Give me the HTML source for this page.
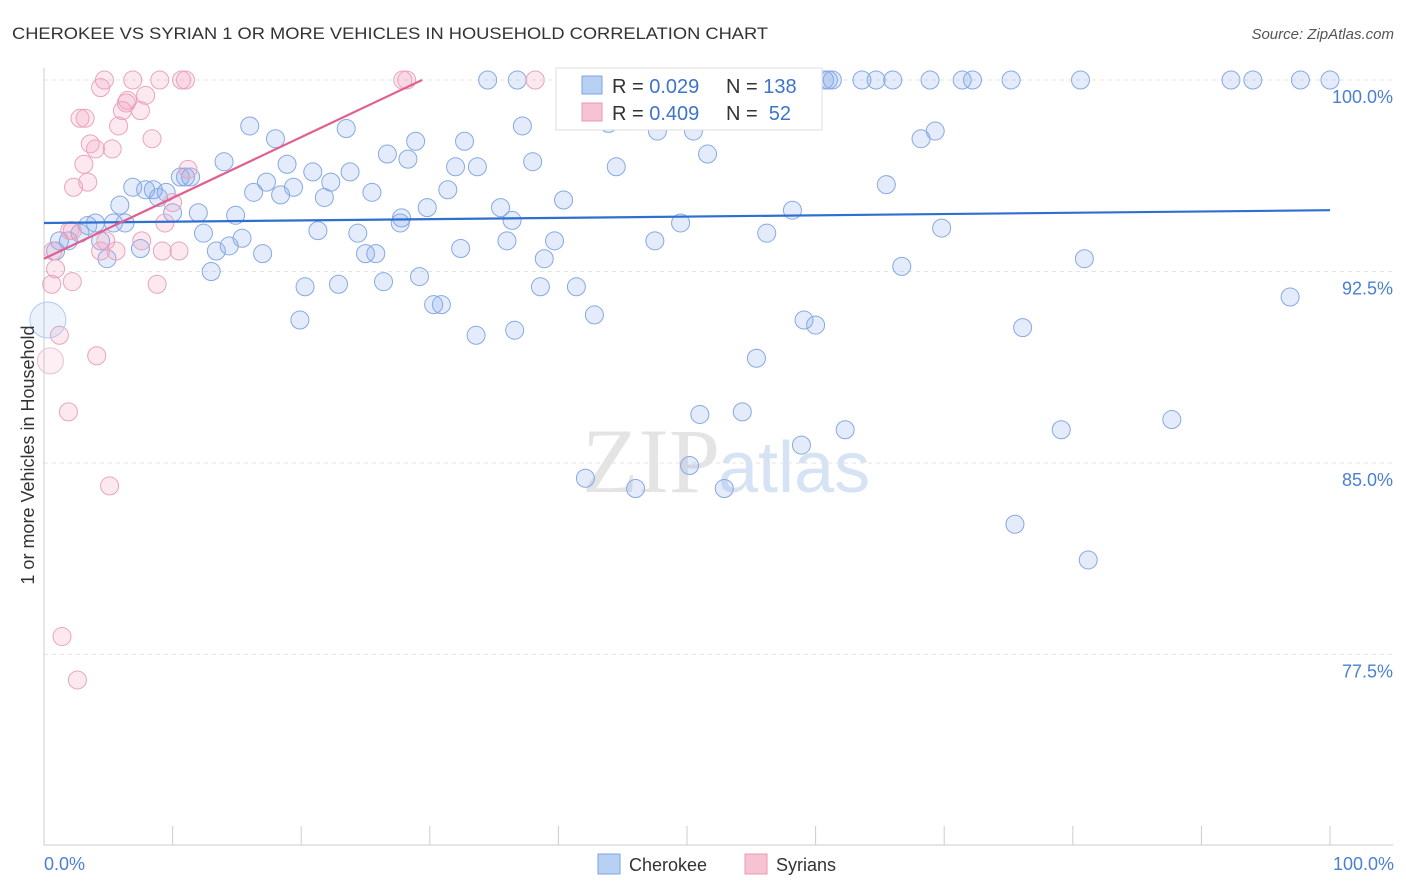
<!DOCTYPE html>
<html><head><meta charset="utf-8"><style>
body{margin:0;background:#fff;font-family:"Liberation Sans",sans-serif;}
svg{display:block}
</style></head><body>
<svg id="chart" width="1406" height="892" viewBox="0 0 1406 892">
<text x="12" y="39" font-size="17" fill="#333" textLength="756" lengthAdjust="spacingAndGlyphs">CHEROKEE VS SYRIAN 1 OR MORE VEHICLES IN HOUSEHOLD CORRELATION CHART</text>
<text x="1394" y="39" font-size="15" fill="#555" text-anchor="end" font-style="italic">Source: ZipAtlas.com</text>
<text x="720" y="492" font-size="92" fill="#e4e4e4" text-anchor="end" font-family="Liberation Serif">ZIP</text>
<text x="718" y="492" font-size="72" fill="#d6e3f4">atlas</text>
<g id="grid"></g><g id="axes"></g><g id="pts"></g><g id="trend"></g>
<text transform="translate(34,455) rotate(-90)" font-size="18" fill="#333" text-anchor="middle">1 or more Vehicles in Household</text>
<text x="44" y="870" font-size="18" fill="#4a7fd4">0.0%</text>
<text x="1394" y="870" font-size="18" fill="#4a7fd4" text-anchor="end">100.0%</text>
<g>
<rect x="556" y="68" width="266" height="62" fill="#fff" stroke="#ddd"/>
<rect x="582" y="76" width="20" height="18" fill="#b8d0f3" stroke="#7ea4df"/>
<text x="612" y="93" font-size="20" fill="#333">R = <tspan fill="#3d74cc">0.029</tspan></text>
<text x="726" y="93" font-size="20" fill="#333">N = <tspan fill="#3d74cc">138</tspan></text>
<rect x="582" y="103" width="20" height="18" fill="#f7c3d3" stroke="#e99ab5"/>
<text x="612" y="120" font-size="20" fill="#333">R = <tspan fill="#3d74cc">0.409</tspan></text>
<text x="726" y="120" font-size="20" fill="#333">N = <tspan fill="#3d74cc">&#160;52</tspan></text>
</g>
<g>
<rect x="598" y="854" width="22" height="20" fill="#b8d0f3" stroke="#7ea4df"/>
<text x="629" y="871" font-size="18" fill="#333">Cherokee</text>
<rect x="745" y="854" width="22" height="20" fill="#f7c3d3" stroke="#e99ab5"/>
<text x="776" y="871" font-size="18" fill="#333">Syrians</text>
</g>
</svg>
<script>
const yTicks=[100,92.5,85,77.5];
const yTickLabels=["100.0%","92.5%","85.0%","77.5%"];
const xTicks=[0,10,20,30,40,50,60,70,80,90,100];
const blueX=[0.9,1.2,1.9,2.8,3.4,4.0,4.4,4.9,5.4,5.9,6.3,6.9,7.5,7.9,8.5,8.9,9.5,10.0,10.6,11.0,11.4,12.0,12.4,13.0,13.4,14.0,14.4,14.9,15.4,16.0,16.3,17.0,17.3,18.0,18.4,18.9,19.4,19.9,20.3,20.9,21.3,21.8,22.3,22.9,23.5,23.8,24.4,25.0,25.5,25.8,26.4,26.7,27.7,27.8,28.3,28.9,29.2,29.8,30.3,30.9,31.4,32.0,32.4,32.7,33.6,33.7,34.5,35.5,36.0,36.4,36.6,36.8,37.2,38.0,38.6,38.9,39.7,40.4,41.4,42.1,42.8,43.9,44.5,46.0,46.7,47.5,47.7,49.5,50.2,50.5,51.0,51.6,51.8,52.9,54.3,55.4,56.2,58.2,58.9,59.1,60.0,60.7,61.3,62.3,63.6,64.7,65.5,66.0,66.7,68.2,68.9,69.3,69.8,71.4,72.2,75.2,75.5,76.1,79.1,80.6,80.9,81.2,87.7,92.3,94.0,96.9,97.7,100,43.5,61.0];
const blueY=[93.3,93.7,93.7,94.0,94.3,94.4,93.7,93.0,94.4,95.1,94.4,95.8,93.4,95.7,95.7,95.4,95.6,94.8,96.2,96.2,96.2,94.8,94.0,92.5,93.3,96.8,93.5,94.7,93.8,98.2,95.6,93.2,96.0,97.7,95.5,96.7,95.8,90.6,91.9,96.4,94.1,95.4,96.0,92.0,98.1,96.4,94.0,93.2,95.6,93.2,92.1,97.1,94.4,94.6,96.9,97.6,92.3,95.0,91.2,91.2,95.7,96.6,93.4,97.6,90.0,96.6,100,95.0,93.7,94.5,90.2,100,98.2,96.8,91.9,93.0,93.7,95.3,91.9,84.4,90.8,98.3,96.6,84.0,100,93.7,98.0,94.4,84.9,98.0,86.9,97.1,100,84.0,87.0,89.1,94.0,94.9,85.7,90.6,90.4,100,100,86.3,100,100,95.9,100,92.7,97.7,100,98.0,94.2,100,100,100,82.6,90.3,86.3,100,93.0,81.2,86.7,100,100,91.5,100,100,100,100];
const pinkX=[0.7,0.6,1.2,0.9,1.4,1.9,2.2,2.2,2.6,2.3,2.8,3.1,3.2,3.4,3.6,4.0,4.1,4.4,4.4,4.7,4.8,5.1,5.3,5.6,5.8,6.1,6.4,6.5,6.9,7.5,7.6,7.9,8.4,8.8,9.0,9.2,9.4,10.0,10.5,10.7,11.0,11.2,27.9,28.2,38.2,2.0];
const pinkY=[93.3,92.0,90.0,92.6,78.2,87.0,92.1,94.1,76.5,95.8,98.5,96.7,98.5,96.0,97.5,97.3,89.2,93.3,99.7,100,93.7,84.1,97.3,93.3,98.2,98.8,99.1,99.2,100,98.8,93.7,99.4,97.7,92.0,100,93.3,94.4,95.2,93.3,100,100,96.5,100,100,100,94.1];
const bigBlue=[[0.3,90.6]];
const bigPink=[[0.5,89.0]];
const blueTrend=[94.4,94.9];
const pinkTrend=[[0,93.0],[29.4,100]];
const X=v=>44+v*12.86, Y=v=>80+(100-v)*25.53;
const NS="http://www.w3.org/2000/svg";
function mk(t,a,p){const e=document.createElementNS(NS,t);for(const k in a)e.setAttribute(k,a[k]);document.getElementById(p).appendChild(e);return e;}
yTicks.forEach((t,i)=>{
 const l=mk('line',{x1:44,x2:1393,y1:Y(t),y2:Y(t),stroke:'#e3e3e3','stroke-dasharray':'4,4'},'grid');
 
 
 const tx=mk('text',{x:1393,y:Y(t)+23,'font-size':18,fill:'#4a7fd4','text-anchor':'end'},'axes');
 tx.textContent=yTickLabels[i];
 
 
});
const ya=mk('line',{x1:44,x2:44,y1:68,y2:845,stroke:'#ccc'},'axes');


const xa=mk('line',{x1:44,x2:1393,y1:845,y2:845,stroke:'#ccc'},'axes');


xTicks.forEach(t=>{const l=mk('line',{x1:X(t),x2:X(t),y1:826,y2:845,stroke:'#ccc'},'axes');
 
 });
function pt(x,y,r,c,name){const e=mk('circle',{cx:X(x),cy:Y(y),r:r,fill:c[0],stroke:c[1],'stroke-width':1},'pts');
 
 }
const BC=['rgba(130,170,235,0.22)','#86a9e2'],PC=['rgba(240,155,185,0.22)','#eba3bd'];
const BB=['rgba(130,170,235,0.15)','#b3caee'],PB=['rgba(240,155,185,0.15)','#f0bfd0'];
blueX.forEach((x,i)=>pt(x,blueY[i],9,BC,'cherokee-point'));
pinkX.forEach((x,i)=>pt(x,pinkY[i],9,PC,'syrians-point'));
bigBlue.forEach(p=>pt(p[0],p[1],18,BB,'cherokee-point-large'));
bigPink.forEach(p=>pt(p[0],p[1],13,PB,'syrians-point-large'));
const bt=mk('line',{x1:X(0),y1:Y(blueTrend[0]),x2:X(100),y2:Y(blueTrend[1]),stroke:'#2f6fd0','stroke-width':2.2},'trend');


const pk=mk('line',{x1:X(pinkTrend[0][0]),y1:Y(pinkTrend[0][1]),x2:X(pinkTrend[1][0]),y2:Y(pinkTrend[1][1]),stroke:'#e0608f','stroke-width':2.2},'trend');


</script>
</body></html>
